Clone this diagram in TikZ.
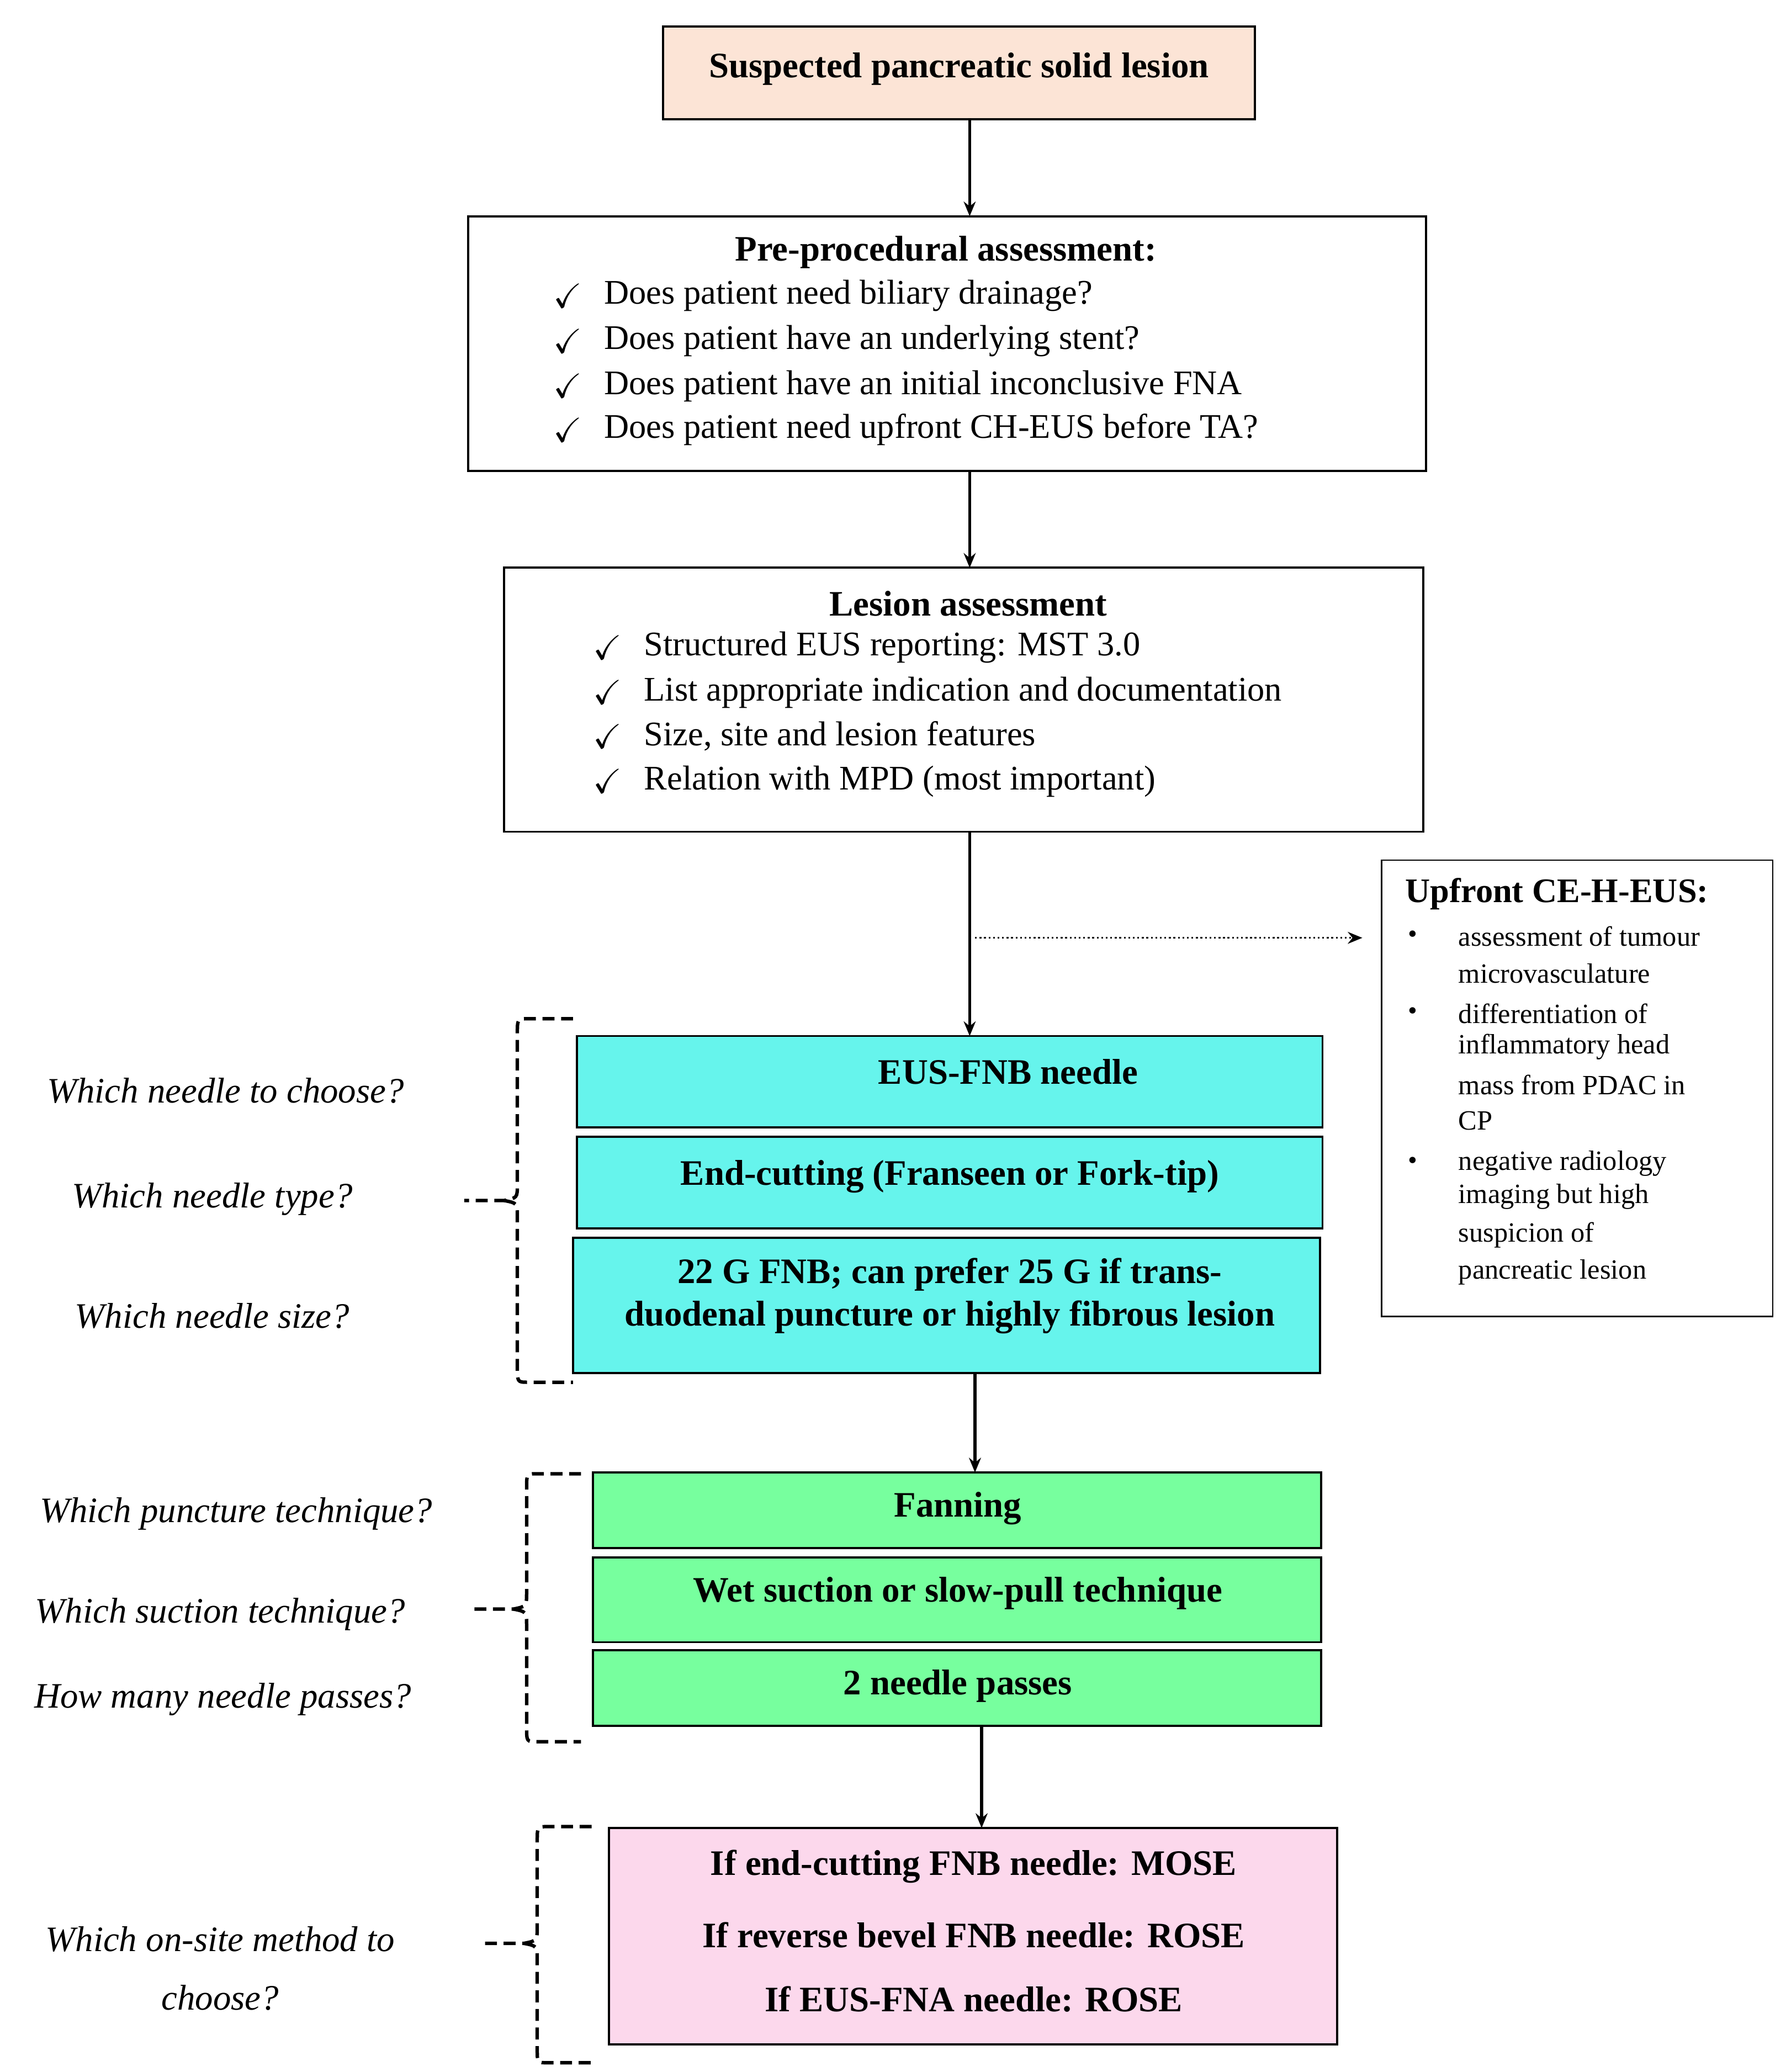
\documentclass[tikz,border=0pt]{standalone}
\usepackage{fontspec}
\setmainfont{Liberation Serif}
\usepackage{amssymb}
\usetikzlibrary{arrows.meta}
\definecolor{peach}{HTML}{FCE4D6}
\definecolor{cyanf}{HTML}{66F4EC}
\definecolor{greenf}{HTML}{77FF9E}
\definecolor{pinkf}{HTML}{FCD8EC}
\begin{document}
\begin{tikzpicture}[x=1pt,y=-1pt,
  box/.style={draw,line width=1.6pt,inner sep=0pt,outer sep=0pt},
  arr/.style={line width=2.2pt,-{Stealth[length=11pt,width=9pt]}},
  brace/.style={line width=2.6pt,dash pattern=on 9pt off 5pt},
  q/.style={font=\fontsize{27}{34}\selectfont\itshape,align=center},
  bt/.style={font=\fontsize{27}{32}\selectfont\bfseries},
  tx/.style={font=\fontsize{26}{32}\selectfont,anchor=west},
  sm/.style={font=\fontsize{21}{27}\selectfont,anchor=west},
  ck/.style={font=\fontsize{26}{32}\selectfont}]
\useasboundingbox (0,0) rectangle (1346,1562);
% top
\node[box,fill=peach,minimum width=446pt,minimum height=70pt,anchor=north west] (top) at (500,20) {};
\node[bt] (topt) at (723,52) {Suspected pancreatic solid lesion};
% pre
\node[box,minimum width=722pt,minimum height=192pt,anchor=north west] (pre) at (353,163) {};
\node[bt] (pret) at (713,190) {Pre-procedural assessment:};
\foreach \y/\t [count=\i] in {223/Does patient need biliary drainage?,257/Does patient have an underlying stent?,291/Does patient have an initial inconclusive FNA/B?,324/Does patient need upfront CH-EUS before TA?}{
  \node[ck] (pc\i) at (428,\y) {$\checkmark$};
  \node[tx] (pl\i) at (452,\y) {\t};}
% lesion
\node[box,minimum width=693pt,minimum height=199pt,anchor=north west] (les) at (380,428) {};
\node[bt] (lest) at (730,455) {Lesion assessment};
\foreach \y/\t [count=\i] in {488/Structured EUS reporting: MST 3.0,522/List appropriate indication and documentation,555/{Size, site and lesion features},589/Relation with MPD (most important)}{
  \node[ck] (lc\i) at (458,\y) {$\checkmark$};
  \node[tx] (ll\i) at (482,\y) {\t};}
% upfront
\node[draw,line width=1pt,minimum width=295pt,minimum height=344pt,anchor=north west,inner sep=0pt] (up) at (1041,648) {};
\node[font=\fontsize{26}{32}\selectfont\bfseries,anchor=west] (upt) at (1056,674) {Upfront CE-H-EUS:};
\foreach \y in {706,764,877}{\node[font=\fontsize{20}{24}\selectfont] at (1065,\y) {\textbullet};}
\foreach \y/\t in {706/assessment of tumour,734/microvasculature,764/differentiation of,789/inflammatory head,818/mass from PDAC in,845/CP,877/negative radiology,902/imaging but high,931/suspicion of,959/pancreatic lesion}{
  \node[sm] at (1096,\y) {\t};}
% cyan
\node[box,fill=cyanf,minimum width=562pt,minimum height=69pt,anchor=north west] (c1) at (435,781) {};
\node[bt] at (760,808) {EUS-FNB needle};
\node[box,fill=cyanf,minimum width=562pt,minimum height=69pt,anchor=north west] (c2) at (435,857) {};
\node[bt] at (716,887) {End-cutting (Franseen or Fork-tip)};
\node[box,fill=cyanf,minimum width=563pt,minimum height=102pt,anchor=north west] (c3) at (432,933) {};
\node[bt,align=center] at (716,977) {22 G FNB; can prefer 25 G if trans-\\duodenal puncture or highly fibrous lesion};
% green
\node[box,fill=greenf,minimum width=549pt,minimum height=57pt,anchor=north west] (g1) at (447,1110) {};
\node[bt] at (722,1137) {Fanning};
\node[box,fill=greenf,minimum width=549pt,minimum height=64pt,anchor=north west] (g2) at (447,1174) {};
\node[bt] at (722,1201) {Wet suction or slow-pull technique};
\node[box,fill=greenf,minimum width=549pt,minimum height=57pt,anchor=north west] (g3) at (447,1244) {};
\node[bt] at (722,1271) {2 needle passes};
% pink
\node[box,fill=pinkf,minimum width=549pt,minimum height=163pt,anchor=north west] (p1) at (459,1378) {};
\node[bt] at (734,1407) {If end-cutting FNB needle: MOSE};
\node[bt] at (734,1459) {If reverse bevel FNB needle: ROSE};
\node[bt] at (734,1507) {If EUS-FNA needle: ROSE};
% arrows
\draw[arr] (top.south -| 731,0) -- (pre.north -| 731,0);
\draw[arr] (pre.south -| 731,0) -- (les.north -| 731,0);
\draw[arr] (les.south -| 731,0) -- (c1.north -| 731,0);
\coordinate (dA) at (735,707); \coordinate (dB) at (1027,707);
\draw[line width=1.4pt,dotted,-{Stealth[length=11pt,width=9pt]}] (dA) -- (dB);
\draw[arr] (c3.south -| 735,0) -- (g1.north -| 735,0);
\draw[arr] (g3.south -| 740,0) -- (p1.north -| 740,0);
% braces
\draw[brace] (432,768) -- (398,768) .. controls (390,768) .. (390,780) -- (390,893) .. controls (390,903) .. (380,905) -- (350,905);
\draw[brace] (380,905) .. controls (390,907) .. (390,917) -- (390,1030) .. controls (390,1042) .. (398,1042) -- (432,1042);
\draw[brace] (438,1111) -- (405,1111) .. controls (397,1111) .. (397,1122) -- (397,1200) .. controls (397,1211) .. (387,1213) -- (355,1213);
\draw[brace] (387,1213) .. controls (397,1215) .. (397,1226) -- (397,1302) .. controls (397,1313) .. (405,1313) -- (438,1313);
\draw[brace] (446,1377) -- (413,1377) .. controls (405,1377) .. (405,1388) -- (405,1452) .. controls (405,1463) .. (395,1465) -- (363,1465);
\draw[brace] (395,1465) .. controls (405,1467) .. (405,1478) -- (405,1545) .. controls (405,1555) .. (413,1555) -- (446,1555);
% questions
\node[q] at (170,822) {Which needle to choose?};
\node[q] at (160,904) {Which needle type?};
\node[q] at (160,992) {Which needle size?};
\node[q] at (178,1141) {Which puncture technique?};
\node[q] at (166,1217) {Which suction technique?};
\node[q] at (168,1281) {How many needle passes?};
\node[q] at (166,1462) {Which on-site method to};
\node[q] at (166,1506) {choose?};
\end{tikzpicture}
\end{document}
